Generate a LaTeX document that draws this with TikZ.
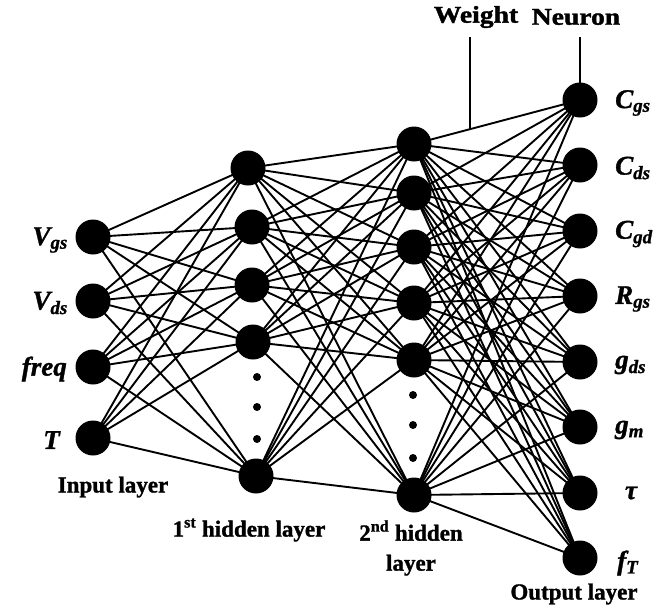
\documentclass[tikz,border=0pt]{standalone}
\usepackage{fontspec}
\setmainfont{Liberation Serif}
\newfontfamily\widefont[FakeStretch=1.15,FakeBold=1.5]{Liberation Serif}
\newfontfamily\capfont[FakeBold=1.2]{Liberation Serif}
\usetikzlibrary{calc}
\begin{document}
\begin{tikzpicture}[x=1pt,y=-1pt,
 neuron/.style={circle,fill=black,inner sep=0pt,minimum size=35pt},
 dotn/.style={circle,fill=black,inner sep=0pt,minimum size=8pt},
 wire/.style={line width=1.9pt},
 lab/.style={font=\fontsize{27}{30}\selectfont\capfont\bfseries\itshape,inner sep=0pt},
 laycap/.style={font=\fontsize{23}{30}\selectfont\capfont\bfseries,align=center,inner sep=0pt},
 annot/.style={font=\fontsize{24}{26}\selectfont\widefont\bfseries,inner sep=0pt},
]
\useasboundingbox[fill=white] (0,0) rectangle (668,608);
% input layer
\node[neuron] (i1) at (93,237) {};
\node[neuron] (i2) at (93,301) {};
\node[neuron] (i3) at (93,367) {};
\node[neuron] (i4) at (93,438) {};
% 1st hidden layer
\node[neuron] (a1) at (248,168) {};
\node[neuron] (a2) at (252,227) {};
\node[neuron] (a3) at (252,285) {};
\node[neuron] (a4) at (253,342) {};
\node[neuron] (a5) at (256,476) {};
\node[dotn] (ad1) at (257,377) {};
\node[dotn] (ad2) at (257,407) {};
\node[dotn] (ad3) at (257,439) {};
% 2nd hidden layer
\node[neuron] (b1) at (414,144) {};
\node[neuron] (b2) at (414,193) {};
\node[neuron] (b3) at (414,247) {};
\node[neuron] (b4) at (414,303) {};
\node[neuron] (b5) at (414,360) {};
\node[neuron] (b6) at (414,495) {};
\node[dotn] (bd1) at (413,395) {};
\node[dotn] (bd2) at (413,425) {};
\node[dotn] (bd3) at (413,458) {};
% output layer
\node[neuron] (o1) at (580,100) {};
\node[neuron] (o2) at (580,165) {};
\node[neuron] (o3) at (580,231) {};
\node[neuron] (o4) at (580,296) {};
\node[neuron] (o5) at (580,362) {};
\node[neuron] (o6) at (580,427) {};
\node[neuron] (o7) at (580,493) {};
\node[neuron] (o8) at (580,558) {};
% connections
\foreach \i in {1,...,4} \foreach \j in {1,...,5} \draw[wire] (i\i.center) -- (a\j.center);
\foreach \i in {1,...,5} \foreach \j in {1,...,6} \draw[wire] (a\i.center) -- (b\j.center);
\foreach \i in {1,...,6} \foreach \j in {1,...,8} \draw[wire] (b\i.center) -- (o\j.center);
% input labels
\node[lab,anchor=east] (li1) at (68,240) {V\textsubscript{gs}};
\node[lab,anchor=east] (li2) at (68,303) {V\textsubscript{ds}};
\node[lab,anchor=east] (li3) at (67,369) {freq};
\node[lab,anchor=east] (li4) at (60,440) {T};
% output labels
\node[lab,anchor=west] (lo1) at (615,103) {C\textsubscript{gs}};
\node[lab,anchor=west] (lo2) at (615,168) {C\textsubscript{ds}};
\node[lab,anchor=west] (lo3) at (615,234) {C\textsubscript{gd}};
\node[lab,anchor=west] (lo4) at (615,299) {R\textsubscript{gs}};
\node[lab,anchor=west] (lo5) at (615,365) {g\textsubscript{ds}};
\node[lab,anchor=west] (lo6) at (615,430) {g\textsubscript{m}};
\node[lab] (lo7) at (631,493) {τ};
\node[lab,anchor=west] (lo8) at (617,563) {f\textsubscript{T}};
% layer captions
\node[laycap] (ci) at (113,487) {Input layer};
\node[laycap] (ch1) at (249,530) {1\textsuperscript{st} hidden layer};
\node[laycap] (ch2) at (411,548) {2\textsuperscript{nd} hidden\\layer};
\node[laycap] (co) at (574,594) {Output layer};
% weight / neuron annotations
\node[annot] (wt) at (476,17) {Weight};
\node[annot] (nt) at (576,17) {Neuron};
\coordinate (w) at ($(b1)!0.337!(o1)$);
\coordinate (ltop) at (470,37);
\draw[wire] (w) -- (w |- ltop);
\draw[wire] (o1.center) -- (o1 |- ltop);
\end{tikzpicture}
\end{document}
